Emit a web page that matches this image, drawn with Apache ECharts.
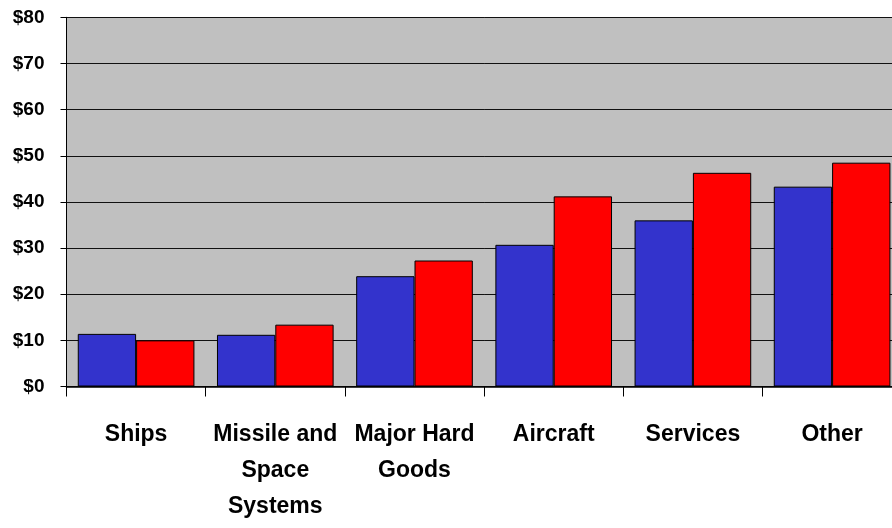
<!DOCTYPE html>
<html>
<head>
<meta charset="utf-8">
<script src="https://cdn.jsdelivr.net/npm/echarts@6/dist/echarts.min.js"></script>
<style>
html,body{margin:0;padding:0;background:#fff;overflow:hidden;width:892px;height:528px;}
#chart{width:902px;height:528px;}
</style>
</head>
<body>
<div id="chart"></div>
<script>
var categories = ["Ships", "Missile and\nSpace\nSystems", "Major Hard\nGoods", "Aircraft", "Services", "Other"];
var seriesBlue = [11.4, 11.2, 23.9, 30.7, 36.0, 43.3];
var seriesRed = [10.0, 13.4, 27.3, 41.2, 46.3, 48.5];
var yTicks = [0, 10, 20, 30, 40, 50, 60, 70, 80];

var FONT = "'Liberation Sans Narrow', 'Arial Narrow', 'Liberation Sans', Arial, sans-serif";
var chart = echarts.init(document.getElementById('chart'), null, {renderer: 'canvas'});
chart.setOption({
  animation: false,
  backgroundColor: '#ffffff',
  grid: {
    left: 66.5, top: 17.3, bottom: 141.5, right: 0.3,
    show: true, backgroundColor: '#c0c0c0', borderWidth: 0,
    containLabel: false
  },
  xAxis: {
    type: 'category',
    data: categories,
    axisLine: {show: true, lineStyle: {color: '#000', width: 1.5}},
    axisTick: {show: true, length: 10, lineStyle: {color: '#000', width: 1}},
    axisLabel: {
      interval: 0, margin: 30,
      fontFamily: FONT, fontWeight: 'bold', fontSize: 23, lineHeight: 36,
      color: '#000'
    }
  },
  yAxis: {
    type: 'value',
    min: yTicks[0], max: yTicks[yTicks.length - 1], interval: 10,
    axisLine: {show: true, lineStyle: {color: '#000', width: 1}},
    axisTick: {show: true, length: 6, lineStyle: {color: '#000'}},
    splitLine: {show: true, lineStyle: {color: '#111', width: 1}},
    axisLabel: {
      margin: 22,
      fontFamily: FONT, fontWeight: 'bold', fontSize: 19,
      color: '#000',
      formatter: function (v) { return '$' + v; }
    }
  },
  series: [
    {
      type: 'bar', data: seriesBlue, barGap: '0%', barCategoryGap: '16.2%',
      itemStyle: {color: '#3333cc', borderColor: '#000', borderWidth: 1}
    },
    {
      type: 'bar', data: seriesRed,
      itemStyle: {color: '#ff0000', borderColor: '#000', borderWidth: 1}
    }
  ]
});
</script>
</body>
</html>
